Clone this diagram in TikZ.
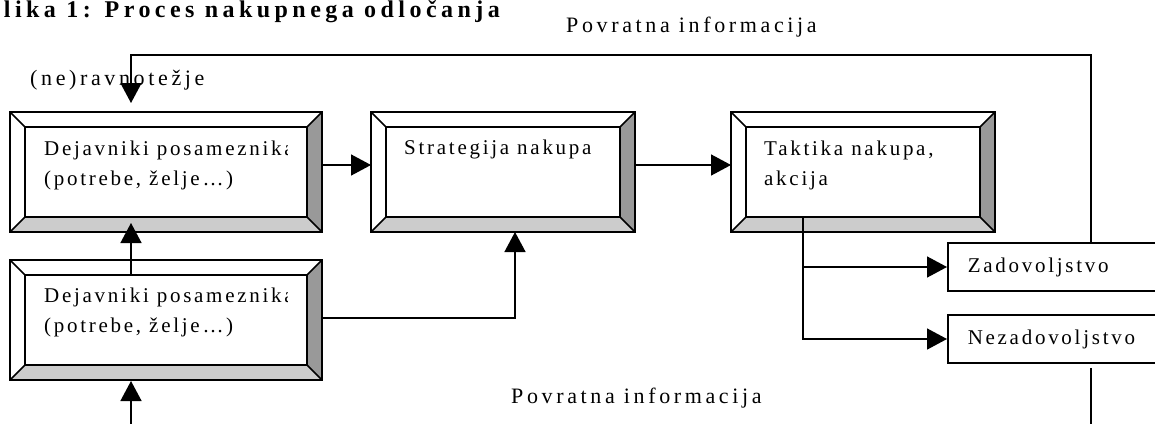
\documentclass[tikz,border=0pt]{standalone}
\usepackage{fontspec}
\setmainfont{Liberation Serif}
\newfontfamily\boxfont[LetterSpace=13]{Liberation Serif}
\newfontfamily\notefont[LetterSpace=16.5]{Liberation Serif}
\newfontfamily\headfont[LetterSpace=18.5]{Liberation Serif}
\usetikzlibrary{arrows.meta,calc}

% bevelled frame drawn around a named rectangular node
\newcommand\bevelframe[1]{%
  \fill[bevellow] (#1.south west) -- ([shift={(15,-15)}]#1.south west)
    -- ([shift={(-15,-15)}]#1.south east) -- (#1.south east) -- cycle;
  \fill[bevside] (#1.north east) -- (#1.south east)
    -- ([shift={(-15,-15)}]#1.south east) -- ([shift={(-15,15)}]#1.north east) -- cycle;
  \draw[frameline] ([shift={(15,15)}]#1.north west) rectangle ([shift={(-15,-15)}]#1.south east);
  \draw[frameline] (#1.north west) -- ([shift={(15,15)}]#1.north west);
  \draw[frameline] (#1.north east) -- ([shift={(-15,15)}]#1.north east);
  \draw[frameline] (#1.south west) -- ([shift={(15,-15)}]#1.south west);
  \draw[frameline] (#1.south east) -- ([shift={(-15,-15)}]#1.south east);
  \draw[frameline] (#1.north west) rectangle (#1.south east);
}

\begin{document}
\begin{tikzpicture}[x=1pt,y=-1pt,
  frameline/.style={line width=1.7pt},
  bevellow/.style={fill=black!20},
  bevside/.style={fill=black!40},
  stagebox/.style={rectangle, fill=white, inner sep=0pt, outer sep=0pt,
    minimum height=120pt},
  outcome/.style={rectangle, draw, line width=1.5pt, fill=white, anchor=west,
    minimum width=250pt, minimum height=48pt, inner xsep=20pt, inner ysep=0pt,
    text width=210pt, align=left, font=\boxfont\fontsize{21}{30}\selectfont},
  boxtext/.style={anchor=base west, align=left, inner sep=0pt,
    font=\boxfont\fontsize{21}{30}\selectfont},
  note/.style={anchor=base west, inner sep=0pt,
    font=\notefont\fontsize{22}{26}\selectfont},
  link/.style={line width=1.5pt},
  arr/.style={line width=1.5pt, -{Triangle[length=20pt,width=21pt]}}]
\useasboundingbox (0,0) rectangle (1155,423);

% title
\node[anchor=base east, inner sep=0pt, font=\headfont\bfseries\fontsize{24}{28}\selectfont]
  (title) at (500,17) {Slika 1: Proces nakupnega odločanja};

% stages of the decision process
\node[stagebox, minimum width=312pt] (b1) at (166,172) {};
\node[stagebox, minimum width=264pt] (b2) at (503,172) {};
\node[stagebox, minimum width=264pt] (b3) at (863,172) {};
\node[stagebox, minimum width=312pt] (b4) at (166,320) {};
\bevelframe{b1}
\bevelframe{b2}
\bevelframe{b3}
\bevelframe{b4}

% texts; the base anchor sits on the last line
\begin{scope}
  \clip (26,127) rectangle (287,217);
  \node[boxtext] (t1) at (44,185) {Dejavniki posameznika\\(potrebe, želje…)};
\end{scope}
\begin{scope}
  \clip (26,275) rectangle (287,365);
  \node[boxtext] (t4) at (44,332) {Dejavniki posameznika\\(potrebe, želje…)};
\end{scope}
\node[boxtext] (t2) at (404,154) {Strategija nakupa};
\node[boxtext] (t3) at (764,185) {Taktika nakupa,\\akcija};

% outcomes
\node[outcome] (z) at (947,267) {Zadovoljstvo};
\node[outcome] (nz) at (947,339) {Nezadovoljstvo};

% labels
\node[note] (nr) at (30,85) {(ne)ravnotežje};
\node[note] (pi1) at (566,32) {Povratna informacija};
\node[note] (pi2) at (511,403) {Povratna informacija};

% helper points of the connectors
\coordinate (fb) at (1091,55);
\coordinate (fbl) at (131,55);
\coordinate (fbout) at (1091,430);
\coordinate (inA) at (131,430);
\coordinate (br) at ([xshift=-60pt,yshift=15pt]b3.south);

% connectors
\draw[arr] ([yshift=7pt]b1.east) -- ([yshift=7pt]b2.west);
\draw[arr] ([yshift=7pt]b2.east) -- ([yshift=7pt]b3.west);
\draw[arr] (br) |- (z.west);
\draw[arr] (br) |- (nz.west);
\draw[arr] (fb |- z.north) -- (fb) -- (fbl) -- ([yshift=9pt]fbl |- b1.north);
\draw[link] ([yshift=-4pt]fb |- nz.south) -- (fbout);
\draw[arr] ([yshift=-14pt]fbl |- b4.north) -- ([yshift=9pt]fbl |- b1.south);
\draw[arr] (inA) -- ([yshift=-1pt]inA |- b4.south);
\draw[arr] ([yshift=2pt]b4.east) -| ([xshift=12pt]b2.south);
\end{tikzpicture}
\end{document}
